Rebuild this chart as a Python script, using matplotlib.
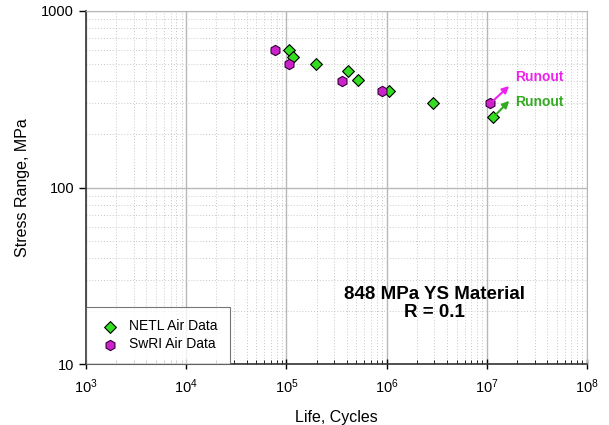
import numpy as np
import matplotlib.pyplot as plt

plt.rcParams['mathtext.fontset'] = 'custom'
plt.rcParams['mathtext.rm'] = 'Liberation Sans'

# data
netl_life = [1.06e5, 1.16e5, 1.97e5, 4.1e5, 5.2e5, 1.05e6, 2.9e6, 1.15e7]
netl_stress = [600, 550, 500, 455, 405, 350, 300, 250]
swri_life = [7.7e4, 1.05e5, 3.6e5, 9.0e5, 1.08e7]
swri_stress = [600, 500, 400, 350, 300]

fig = plt.figure(figsize=(6.09, 4.25), dpi=100)
ax = fig.add_axes([86 / 609, 1 - 364 / 425, 501 / 609, 353 / 425])

ax.set_xscale('log')
ax.set_yscale('log')
ax.set_xlim(1e3, 1e8)
ax.set_ylim(10, 1000)

# grid: solid major, dotted minor
ax.grid(True, which='major', color='#b8b8b8', linewidth=1.0, linestyle='-')
ax.grid(True, which='minor', color='#c8c8c8', linewidth=0.7, linestyle=(0, (1, 2)))
ax.set_axisbelow(True)

ax.scatter(netl_life, netl_stress, marker='D', s=36, color='#33dd22',
           edgecolors='black', linewidths=0.8, zorder=3, label='NETL Air Data')
ax.scatter(swri_life, swri_stress, marker='h', s=55, color='#cc22cc',
           edgecolors='#330033', linewidths=0.8, zorder=3, label='SwRI Air Data')

# runout arrows
ax.annotate('', xy=(1.75e7, 385), xytext=(1.1e7, 302),
            arrowprops=dict(arrowstyle='-|>', color='#ee22ee', lw=1.5, mutation_scale=10))
ax.annotate('', xy=(1.75e7, 318), xytext=(1.18e7, 252),
            arrowprops=dict(arrowstyle='-|>', color='#33aa22', lw=1.5, mutation_scale=10))
ax.text(1.9e7, 420, 'Runout', color='#ee22ee', fontsize=10, fontweight='bold',
        family='Liberation Sans', va='center')
ax.text(1.9e7, 305, 'Runout', color='#33aa22', fontsize=10, fontweight='bold',
        family='Liberation Sans', va='center')

ax.text(0.696, 0.172, '848 MPa YS Material\nR = 0.1', transform=ax.transAxes,
        ha='center', va='center', fontsize=13.5, fontweight='bold',
        family='Liberation Sans', linespacing=1.05)

ax.set_xlabel('Life, Cycles', fontsize=11.5, family='Liberation Sans', labelpad=10)
ax.set_ylabel('Stress Range, MPa', fontsize=11.5, family='Liberation Sans', labelpad=8)

ax.set_yticks([10, 100, 1000])
ax.set_yticklabels(['10', '100', '1000'])
ax.set_xticks([1e3, 1e4, 1e5, 1e6, 1e7, 1e8])
ax.set_xticklabels([r'$\mathregular{10^{%d}}$' % i for i in range(3, 9)])
for lab in ax.get_xticklabels() + ax.get_yticklabels():
    lab.set_family('Liberation Sans')
    lab.set_fontsize(10.5)

ax.tick_params(axis='x', which='major', direction='inout', length=7, width=1, pad=6)
ax.tick_params(axis='x', which='minor', direction='in', length=3)
ax.tick_params(axis='y', which='major', direction='out', length=5, width=1)
ax.tick_params(axis='y', which='minor', length=0)

for side in ['left', 'bottom']:
    ax.spines[side].set_color('#333333')
    ax.spines[side].set_linewidth(1.2)
for side in ['top', 'right']:
    ax.spines[side].set_color('#b8b8b8')

leg = ax.legend(loc='lower left', frameon=True, fancybox=False, borderaxespad=0,
                prop={'family': 'Liberation Sans', 'size': 10},
                handletextpad=0.6, borderpad=0.9, labelspacing=0.3,
                handlelength=1.6)
leg.get_frame().set_edgecolor('#555555')
leg.get_frame().set_linewidth(0.8)

fig.savefig('out.png', dpi=100)
